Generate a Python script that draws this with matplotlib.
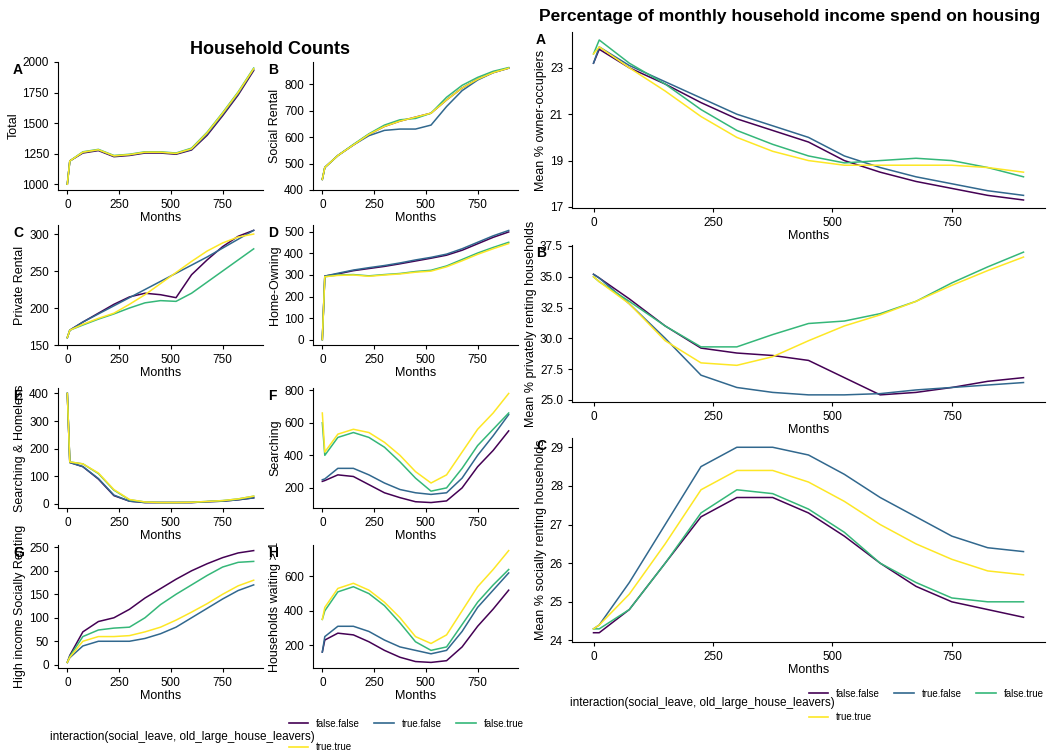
import matplotlib.pyplot as plt
from matplotlib.lines import Line2D

months = [0, 12, 75, 150, 225, 300, 375, 450, 525, 600, 675, 750, 825, 900]
groups = ["false.false", "true.false", "false.true", "true.true"]
colors = {"false.false": "#440154", "true.false": "#31688E",
          "false.true": "#35B779", "true.true": "#FDE725"}

total = {
    "false.false": [1000, 1190, 1255, 1275, 1225, 1235, 1255, 1255, 1245, 1280, 1400, 1560, 1730, 1930],
    "true.false": [1000, 1190, 1260, 1280, 1230, 1240, 1260, 1260, 1250, 1285, 1410, 1570, 1740, 1940],
    "false.true": [1000, 1190, 1265, 1285, 1235, 1245, 1265, 1265, 1255, 1295, 1425, 1585, 1755, 1950],
    "true.true": [1000, 1190, 1262, 1282, 1232, 1242, 1262, 1262, 1252, 1290, 1420, 1580, 1750, 1945],
}
social = {
    "false.false": [440, 485, 530, 570, 610, 640, 660, 675, 690, 740, 785, 818, 843, 860],
    "true.false": [440, 485, 530, 570, 605, 625, 630, 630, 645, 715, 775, 815, 843, 860],
    "false.true": [440, 485, 530, 572, 612, 645, 665, 670, 690, 750, 795, 825, 848, 862],
    "true.true": [440, 485, 530, 570, 610, 640, 660, 675, 690, 740, 785, 818, 843, 860],
}
private = {
    "false.false": [160, 170, 181, 193, 205, 215, 220, 218, 214, 245, 265, 283, 297, 305],
    "true.false": [160, 170, 181, 192, 203, 214, 225, 236, 247, 258, 269, 281, 293, 305],
    "false.true": [160, 170, 177, 185, 192, 200, 207, 210, 209, 220, 235, 250, 265, 280],
    "true.true": [160, 170, 178, 186, 193, 205, 218, 233, 248, 263, 277, 288, 296, 300],
}
owning = {
    "false.false": [0, 295, 305, 320, 330, 340, 352, 365, 378, 392, 415, 445, 475, 500],
    "true.false": [0, 295, 308, 323, 334, 344, 356, 370, 382, 397, 422, 452, 482, 507],
    "false.true": [0, 292, 300, 302, 296, 302, 307, 316, 322, 342, 372, 402, 428, 452],
    "true.true": [0, 292, 298, 300, 294, 300, 305, 313, 318, 338, 366, 396, 422, 446],
}
homeless = {
    "false.false": [400, 150, 135, 90, 30, 10, 5, 5, 5, 5, 8, 10, 15, 22],
    "true.false": [400, 150, 135, 92, 32, 10, 5, 5, 5, 5, 8, 10, 15, 22],
    "false.true": [400, 152, 145, 110, 50, 15, 7, 5, 5, 6, 9, 12, 18, 28],
    "true.true": [400, 152, 145, 112, 52, 16, 7, 5, 5, 6, 9, 12, 18, 28],
}
searching = {
    "false.false": [240, 245, 280, 270, 220, 170, 140, 115, 110, 120, 200, 330, 430, 550],
    "true.false": [250, 255, 320, 320, 280, 230, 190, 170, 160, 170, 260, 400, 520, 650],
    "false.true": [600, 400, 510, 540, 510, 450, 360, 260, 180, 200, 320, 460, 560, 660],
    "true.true": [660, 420, 530, 560, 540, 480, 400, 300, 230, 280, 420, 560, 660, 780],
}
highinc = {
    "false.false": [5, 20, 70, 92, 100, 118, 142, 162, 182, 200, 215, 228, 238, 243],
    "true.false": [5, 15, 40, 50, 50, 50, 56, 66, 80, 100, 120, 140, 158, 170],
    "false.true": [5, 18, 60, 74, 78, 80, 100, 128, 150, 170, 190, 208, 218, 220],
    "true.true": [5, 16, 50, 60, 60, 62, 70, 80, 95, 112, 130, 150, 168, 180],
}
waiting = {
    "false.false": [160, 230, 270, 260, 220, 170, 130, 105, 100, 110, 190, 310, 410, 520],
    "true.false": [160, 250, 310, 310, 280, 230, 190, 170, 150, 170, 280, 420, 520, 620],
    "false.true": [350, 400, 510, 540, 500, 430, 330, 220, 170, 190, 320, 450, 550, 640],
    "true.true": [350, 420, 530, 560, 520, 450, 360, 250, 210, 260, 400, 540, 640, 750],
}
pct_owner = {
    "false.false": [23.2, 23.8, 23.0, 22.3, 21.5, 20.8, 20.3, 19.8, 19.0, 18.5, 18.1, 17.8, 17.5, 17.3],
    "true.false": [23.2, 23.9, 23.1, 22.4, 21.7, 21.0, 20.5, 20.0, 19.2, 18.7, 18.3, 18.0, 17.7, 17.5],
    "false.true": [23.6, 24.2, 23.2, 22.3, 21.2, 20.3, 19.7, 19.2, 18.9, 19.0, 19.1, 19.0, 18.7, 18.3],
    "true.true": [23.6, 23.9, 23.0, 22.0, 20.9, 20.0, 19.4, 19.0, 18.8, 18.8, 18.8, 18.8, 18.7, 18.5],
}
pct_private = {
    "false.false": [35.2, 34.9, 33.2, 31.0, 29.2, 28.8, 28.6, 28.2, 26.8, 25.4, 25.6, 26.0, 26.5, 26.8],
    "true.false": [35.2, 34.9, 32.8, 30.0, 27.0, 26.0, 25.6, 25.4, 25.4, 25.5, 25.8, 26.0, 26.2, 26.4],
    "false.true": [35.0, 34.6, 33.0, 31.0, 29.3, 29.3, 30.3, 31.2, 31.4, 32.0, 33.0, 34.5, 35.8, 37.0],
    "true.true": [35.0, 34.6, 32.8, 29.8, 28.0, 27.8, 28.5, 29.8, 31.0, 31.9, 33.0, 34.3, 35.5, 36.6],
}
pct_social = {
    "false.false": [24.2, 24.2, 24.8, 26.0, 27.2, 27.7, 27.7, 27.3, 26.7, 26.0, 25.4, 25.0, 24.8, 24.6],
    "true.false": [24.3, 24.4, 25.5, 27.0, 28.5, 29.0, 29.0, 28.8, 28.3, 27.7, 27.2, 26.7, 26.4, 26.3],
    "false.true": [24.3, 24.3, 24.8, 26.0, 27.3, 27.9, 27.8, 27.4, 26.8, 26.0, 25.5, 25.1, 25.0, 25.0],
    "true.true": [24.3, 24.4, 25.2, 26.5, 27.9, 28.4, 28.4, 28.1, 27.6, 27.0, 26.5, 26.1, 25.8, 25.7],
}

W, H = 1058, 754
fig = plt.figure(figsize=(W / 100, H / 100), dpi=100)
plt.rcParams["font.family"] = "Liberation Sans"


def axes_px(x0, y0, x1, y1):
    return fig.add_axes([x0 / W, 1 - y1 / H, (x1 - x0) / W, (y1 - y0) / H])


def panel(box, data, ylabel, tag, yticks, tag_off=45):
    ax = axes_px(*box)
    for g in groups:
        ax.plot(months, data[g], color=colors[g], lw=1.1)
    for s in ("top", "right"):
        ax.spines[s].set_visible(False)
    ax.set_xticks([0, 250, 500, 750])
    ax.set_yticks(yticks)
    ax.tick_params(labelsize=8.5, length=3)
    ax.set_xlabel("Months", fontsize=9, labelpad=1)
    ax.set_ylabel(ylabel, fontsize=9, labelpad=2)
    fig.text((box[0] - tag_off) / W, 1 - (box[1] + 1) / H, tag, fontsize=10,
             fontweight="bold", va="top", ha="left")
    ax.set_xlim(-45, 945)
    return ax


fig.text(270 / W, 1 - 50 / H, "Household Counts", fontsize=13,
         fontweight="bold", ha="center", va="center")
fig.text(790 / W, 1 - 17 / H, "Percentage of monthly household income spend on housing",
         fontsize=12.5, fontweight="bold", ha="center", va="center")

c1, c2 = (58, 263), (313, 518)
rows = [(62, 190), (225, 345), (388, 508), (545, 668)]
panel((c1[0], rows[0][0], c1[1], rows[0][1]), total, "Total", "A", [1000, 1250, 1500, 1750, 2000])
panel((c2[0], rows[0][0], c2[1], rows[0][1]), social, "Social Rental", "B", [400, 500, 600, 700, 800])
panel((c1[0], rows[1][0], c1[1], rows[1][1]), private, "Private Rental", "C", [150, 200, 250, 300])
panel((c2[0], rows[1][0], c2[1], rows[1][1]), owning, "Home-Owning", "D", [0, 100, 200, 300, 400, 500])
panel((c1[0], rows[2][0], c1[1], rows[2][1]), homeless, "Searching & Homeless", "E", [0, 100, 200, 300, 400])
panel((c2[0], rows[2][0], c2[1], rows[2][1]), searching, "Searching", "F", [200, 400, 600, 800])
panel((c1[0], rows[3][0], c1[1], rows[3][1]), highinc, "High income Socially Renting", "G", [0, 50, 100, 150, 200, 250])
panel((c2[0], rows[3][0], c2[1], rows[3][1]), waiting, "Households waiting > 1", "H", [200, 400, 600])

panel((572, 32, 1045, 208), pct_owner, "Mean % owner-occupiers", "A", [17, 19, 21, 23], tag_off=36)
panel((572, 245, 1045, 402), pct_private, "Mean % privately renting households", "B",
      [25.0, 27.5, 30.0, 32.5, 35.0, 37.5], tag_off=36)
panel((572, 438, 1045, 642), pct_social, "Mean % socially renting households", "C",
      [24, 25, 26, 27, 28, 29], tag_off=36)

# column-major fill: this order gives row 1 = ff, tf, ft and row 2 = tt
order = ["false.false", "true.true", "true.false", "false.true"]
handles = [Line2D([], [], color=colors[g], lw=1.2) for g in order]
title = "interaction(social_leave, old_large_house_leavers)"
for (x, y), (tx, ty) in [((280, 710), (50, 737)), ((800, 680), (570, 703))]:
    fig.legend(handles, order, loc="upper left", bbox_to_anchor=(x / W, 1 - y / H),
               ncol=3, frameon=False, fontsize=7, handlelength=2.0,
               columnspacing=1.5, labelspacing=1.4)
    fig.text(tx / W, 1 - ty / H, title, fontsize=8.5, va="center")

fig.savefig("out.png", dpi=100)
